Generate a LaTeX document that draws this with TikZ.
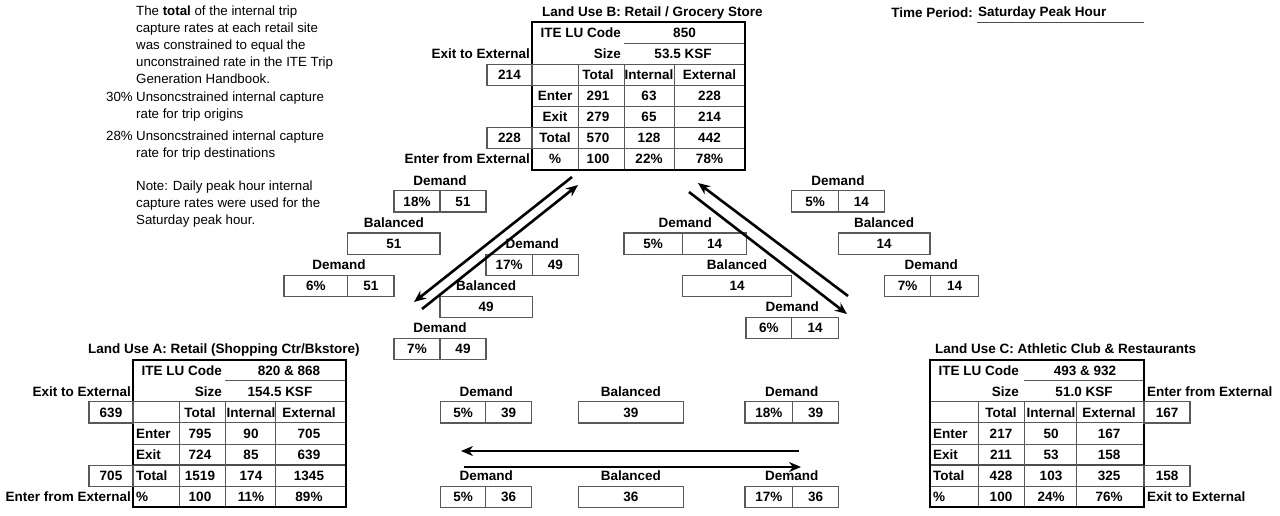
\documentclass[tikz,border=0pt]{standalone}
\usepackage{fontspec}
\setmainfont{Liberation Sans}
\usetikzlibrary{arrows.meta}
\newcommand\Y[1]{(22+21.1*(#1))}
% grid of a land-use table: #1 x0, #2 k0, #3 #4 #5 #6 column offsets
\newcommand\LUgrid[6]{%
  \pgfmathsetmacro\xa{#1}%
  \pgfmathsetmacro\xb{#1+#3}%
  \pgfmathsetmacro\xc{#1+#4}%
  \pgfmathsetmacro\xd{#1+#5}%
  \pgfmathsetmacro\xe{#1+#6}%
  \draw[inner] (\xc,{\Y{#2+1}}) -- (\xe,{\Y{#2+1}});
  \foreach \rr in {2,3,4,6} {\draw[inner] (\xa,{\Y{#2+\rr}}) -- (\xe,{\Y{#2+\rr}});}
  \draw[innerb] (\xa,{\Y{#2+5}}) -- (\xe,{\Y{#2+5}});
  \foreach \cc in {\xb,\xc,\xd} {\draw[inner] (\cc,{\Y{#2+2}}) -- (\cc,{\Y{#2+7}});}
  \draw[outer] (\xa,{\Y{#2}}) rectangle (\xe,{\Y{#2+7}});
}
% a row of three values at column centres \ca \cb \cd
\newcommand\LUrow[5]{%
  \node[txt] (#1a) at (\ca,{\Y{#2+0.5}}) {#3};
  \node[txt] (#1b) at (\cb,{\Y{#2+0.5}}) {#4};
  \node[txt] (#1c) at (\cd,{\Y{#2+0.5}}) {#5};
}
% demand box: name, xleft, xsplit, xright, row, pct, value
\newcommand\dem[7]{%
  \pgfmathsetmacro\wa{#3-#2}%
  \pgfmathsetmacro\wb{#4-#3}%
  \node[txt] (#1l) at ({(#2+#4)/2},{\Y{#5-0.5}}) {Demand};
  \node[sbox,minimum width=\wa pt] (#1a) at ({(#2+#3)/2},{\Y{#5+0.5}}) {#6};
  \node[sbox,minimum width=\wb pt] (#1b) at ({(#3+#4)/2},{\Y{#5+0.5}}) {#7};
}
% balanced box: name, xleft, xright, row, value
\newcommand\bal[5]{%
  \pgfmathsetmacro\wa{#3-#2}%
  \node[txt] (#1l) at ({(#2+#3)/2},{\Y{#4-0.5}}) {Balanced};
  \node[sbox,minimum width=\wa pt] (#1a) at ({(#2+#3)/2},{\Y{#4+0.5}}) {#5};
}
\begin{document}
\begin{tikzpicture}[x=1pt,y=-1pt,
  txt/.style={font=\fontsize{13.5}{16}\selectfont\bfseries, inner sep=0pt, text height=9.7pt, text depth=0pt},
  note/.style={font=\fontsize{13.3}{17}\selectfont, inner sep=0pt, text height=9.5pt, text depth=0pt, anchor=west},
  inner/.style={draw=black!65, line width=0.9pt},
  innerb/.style={draw=black!70, line width=1.6pt},
  outer/.style={draw=black, line width=1.8pt},
  sbox/.style={txt, draw=black!65, line width=1.2pt, minimum height=21.1pt},
  arr/.style={line width=2.6pt, -{Stealth[length=12pt,width=10pt]}}
]
\useasboundingbox (0,0) rectangle (1280,516);

% ---------- note text ----------
\node[note] (n1) at (136,11) {The \textbf{total} of the internal trip};
\node[note] (n2) at (136,28) {capture rates at each retail site};
\node[note] (n3) at (136,45) {was constrained to equal the};
\node[note] (n4) at (136,62) {unconstrained rate in the ITE Trip};
\node[note] (n5) at (136,79) {Generation Handbook.};
\node[note,anchor=east] (p30) at (133,97) {30\%};
\node[note] (n6) at (136,97) {Unsoncstrained internal capture};
\node[note] (n7) at (136,114) {rate for trip origins};
\node[note,anchor=east] (p28) at (133,136) {28\%};
\node[note] (n8) at (136,136) {Unsoncstrained internal capture};
\node[note] (n9) at (136,153) {rate for trip destinations};
\node[note] (n10) at (136,186) {Note: Daily peak hour internal};
\node[note] (n11) at (136,203) {capture rates were used for the};
\node[note] (n12) at (136,220) {Saturday peak hour.};

% ---------- time period ----------
\node[txt,anchor=east] (tp) at (973,13) {Time Period:};
\node[txt,anchor=west] (tpv) at (978,12) {Saturday Peak Hour};
\coordinate (ula) at (977,22.7);
\coordinate (ulb) at (1144,22.7);
\draw[line width=1pt, black!70] (ula) -- (ulb);

% ---------- Land use B ----------
\node[txt,anchor=west] (Bt) at (542,{\Y{-0.5}}) {Land Use B: Retail / Grocery Store};
\LUgrid{532}{0}{46}{92}{142}{213}
\def\ca{598}\def\cb{649}\def\cd{709.5}
\node[txt,anchor=east] (Bcode) at (621,{\Y{0.5}}) {ITE LU Code};
\node[txt] (Bcodev) at (684.5,{\Y{0.5}}) {850};
\node[txt,anchor=east] (Bsize) at (621,{\Y{1.5}}) {Size};
\node[txt] (Bsizev) at (683,{\Y{1.5}}) {53.5 KSF};
\LUrow{Bh}{2}{Total}{Internal}{External}
\node[txt] (Ben) at (555,{\Y{3.5}}) {Enter};
\LUrow{Be}{3}{291}{63}{228}
\node[txt] (Bex) at (555,{\Y{4.5}}) {Exit};
\LUrow{Bx}{4}{279}{65}{214}
\node[txt] (Bto) at (555,{\Y{5.5}}) {Total};
\LUrow{Bt}{5}{570}{128}{442}
\node[txt] (Bpc) at (555,{\Y{6.5}}) {\%};
\LUrow{Bp}{6}{100}{22\%}{78\%}
\node[txt,anchor=east] (Bxl) at (530,{\Y{1.5}}) {Exit to External};
\node[sbox,minimum width=45pt] (Bxv) at (509.5,{\Y{2.5}}) {214};
\node[sbox,minimum width=45pt] (Bev) at (509.5,{\Y{5.5}}) {228};
\node[txt,anchor=east] (Bel) at (530,{\Y{6.5}}) {Enter from External};

% ---------- Land use A ----------
\node[txt,anchor=west] (At) at (88,{\Y{15.5}}) {Land Use A: Retail (Shopping Ctr/Bkstore)};
\LUgrid{133}{16}{46}{92}{142}{213}
\def\ca{200}\def\cb{251}\def\cd{309}
\node[txt,anchor=east] (Acode) at (222,{\Y{16.5}}) {ITE LU Code};
\node[txt] (Acodev) at (289,{\Y{16.5}}) {820 \& 868};
\node[txt,anchor=east] (Asize) at (222,{\Y{17.5}}) {Size};
\node[txt] (Asizev) at (280,{\Y{17.5}}) {154.5 KSF};
\LUrow{Ah}{18}{Total}{Internal}{External}
\node[txt,anchor=west] (Aen) at (136,{\Y{19.5}}) {Enter};
\LUrow{Ae}{19}{795}{90}{705}
\node[txt,anchor=west] (Aex) at (136,{\Y{20.5}}) {Exit};
\LUrow{Ax}{20}{724}{85}{639}
\node[txt,anchor=west] (Ato) at (136,{\Y{21.5}}) {Total};
\LUrow{At}{21}{1519}{174}{1345}
\node[txt,anchor=west] (Apc) at (136,{\Y{22.5}}) {\%};
\LUrow{Ap}{22}{100}{11\%}{89\%}
\node[txt,anchor=east] (Axl) at (131,{\Y{17.5}}) {Exit to External};
\node[sbox,minimum width=44pt] (Axv) at (111,{\Y{18.5}}) {639};
\node[sbox,minimum width=44pt] (Aev) at (111,{\Y{21.5}}) {705};
\node[txt,anchor=east] (Ael) at (131,{\Y{22.5}}) {Enter from External};

% ---------- Land use C ----------
\node[txt,anchor=west] (Ct) at (935,{\Y{15.5}}) {Land Use C: Athletic Club \& Restaurants};
\LUgrid{930}{16}{48}{94}{146}{214}
\def\ca{1001}\def\cb{1051}\def\cd{1109}
\node[txt,anchor=east] (Ccode) at (1019,{\Y{16.5}}) {ITE LU Code};
\node[txt] (Ccodev) at (1085,{\Y{16.5}}) {493 \& 932};
\node[txt,anchor=east] (Csize) at (1019,{\Y{17.5}}) {Size};
\node[txt] (Csizev) at (1084,{\Y{17.5}}) {51.0 KSF};
\LUrow{Ch}{18}{Total}{Internal}{External}
\node[txt,anchor=west] (Cen) at (933,{\Y{19.5}}) {Enter};
\LUrow{Ce}{19}{217}{50}{167}
\node[txt,anchor=west] (Cex) at (933,{\Y{20.5}}) {Exit};
\LUrow{Cx}{20}{211}{53}{158}
\node[txt,anchor=west] (Cto) at (933,{\Y{21.5}}) {Total};
\LUrow{Ct}{21}{428}{103}{325}
\node[txt,anchor=west] (Cpc) at (933,{\Y{22.5}}) {\%};
\LUrow{Cp}{22}{100}{24\%}{76\%}
\node[txt,anchor=west] (Cel) at (1147,{\Y{17.5}}) {Enter from External};
\node[sbox,minimum width=46pt] (Cev) at (1167,{\Y{18.5}}) {167};
\node[sbox,minimum width=46pt] (Cxv) at (1167,{\Y{21.5}}) {158};
\node[txt,anchor=west] (Cxl) at (1147,{\Y{22.5}}) {Exit to External};

% ---------- A <-> B ----------
\dem{dA}{394}{440}{486}{8}{18\%}{51}
\bal{bA}{347.7}{440}{10}{51}
\dem{dB}{284}{347.7}{394}{12}{6\%}{51}
\dem{dC}{486}{532.3}{578.3}{11}{17\%}{49}
\bal{bB}{440}{532.3}{13}{49}
\dem{dD}{394}{440}{486}{15}{7\%}{49}

% ---------- B <-> C ----------
\dem{dE}{791.7}{838.3}{884.3}{8}{5\%}{14}
\bal{bC}{838.3}{930}{10}{14}
\dem{dF}{884.3}{930.7}{978.3}{12}{7\%}{14}
\dem{dG}{624}{682.3}{746.7}{10}{5\%}{14}
\bal{bD}{682.3}{791.7}{12}{14}
\dem{dH}{746}{791.7}{838.3}{14}{6\%}{14}

% ---------- A <-> C ----------
\dem{dI}{440.7}{485.7}{531.7}{18}{5\%}{39}
\bal{bE}{578.3}{683.3}{18}{39}
\dem{dJ}{745}{792.7}{838.3}{18}{18\%}{39}
\dem{dK}{440.7}{485.7}{531.7}{22}{5\%}{36}
\bal{bF}{578.3}{683.3}{22}{36}
\dem{dL}{745}{792.7}{838.3}{22}{17\%}{36}

% ---------- arrows ----------
\coordinate (ab1s) at (572,177);
\coordinate (ab1e) at (414,302);
\coordinate (ab2s) at (422,309);
\coordinate (ab2e) at (578,185);
\coordinate (bc1s) at (848,296);
\coordinate (bc1e) at (698,183);
\coordinate (bc2s) at (689,192);
\coordinate (bc2e) at (847,314);
\coordinate (h1s) at (799,451);
\coordinate (h1e) at (461,451);
\coordinate (h2s) at (464,467);
\coordinate (h2e) at (801,467);
\draw[arr] (ab1s) -- (ab1e);
\draw[arr] (ab2s) -- (ab2e);
\draw[arr] (bc1s) -- (bc1e);
\draw[arr] (bc2s) -- (bc2e);
\draw[arr] (h1s) -- (h1e);
\draw[arr] (h2s) -- (h2e);
\end{tikzpicture}
\end{document}
